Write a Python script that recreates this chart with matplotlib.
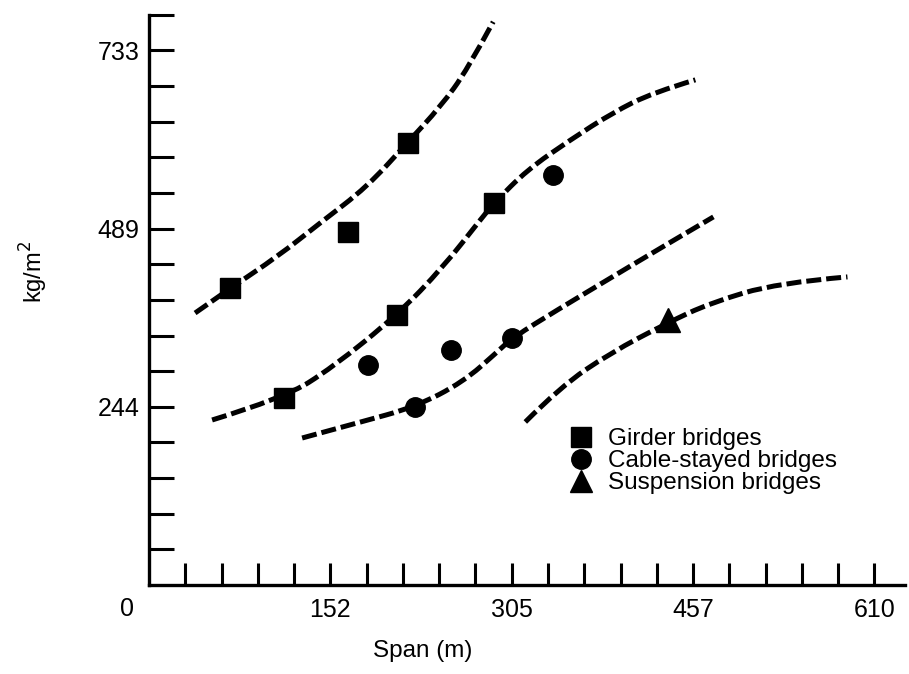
import matplotlib
matplotlib.use("Agg")
import matplotlib.pyplot as plt
from matplotlib.lines import Line2D
from matplotlib.path import Path
from matplotlib.patches import PathPatch

plt.rcParams['font.family'] = ['Liberation Sans', 'DejaVu Sans']

# measured points (span in m, weight in kg/m2)
girder_x = [68.2, 167.4, 217.9, 290.3, 208.7, 113.6]
girder_y = [407.4, 484.2, 606.3, 524.0, 370.4, 256.5]

cable_x = [339.9, 184.3, 254.1, 223.8, 305.4]
cable_y = [562.4, 301.8, 322.4, 244.2, 338.8]

susp_x = [436.7]
susp_y = [363.5]

# hand-drawn trend curves
curve1_x = [38.7, 68.2, 107.7, 143.9, 183.4, 217.9, 244.9, 267.6, 289.4]
curve1_y = [373.0, 407.0, 450.0, 496.6, 546.0, 607.7, 655.7, 706.4, 772.3]

curve2_x = [53.0, 113.6, 154.8, 208.7, 247.4, 278.5, 290.3, 318.0, 354.3, 389.7, 423.3, 459.4]
curve2_y = [226.3, 256.5, 299.0, 370.4, 436.2, 500.7, 524.0, 569.3, 610.4, 647.5, 675.0, 692.7]

curve3_x = [128.7, 175.0, 223.8, 264.2, 292.8, 305.4, 343.3, 385.4, 427.4, 474.6]
curve3_y = [201.6, 222.2, 244.2, 278.5, 319.6, 338.8, 377.2, 418.4, 459.5, 504.8]

curve4_x = [316.4, 345.8, 387.9, 435.8, 472.0, 528.4, 587.3]
curve4_y = [223.6, 271.6, 318.2, 359.4, 386.8, 414.3, 422.5]

xtick_labels = ["152", "305", "457", "610"]
ytick_labels = ["244", "489", "733"]

x_step = 30.5    # 100 ft
y_step = 733 / 15  # 10 psf


def smoothPath(xs, ys):
    # quadratic bezier through the midpoints, read points act as controls
    verts = [(xs[0], ys[0])]
    codes = [Path.MOVETO]
    for i in range(1, len(xs) - 1):
        mx = (xs[i] + xs[i + 1]) / 2
        my = (ys[i] + ys[i + 1]) / 2
        if i == len(xs) - 2:
            mx, my = xs[i + 1], ys[i + 1]
        verts += [(xs[i], ys[i]), (mx, my)]
        codes += [Path.CURVE3, Path.CURVE3]
    return Path(verts, codes)


def main():
    fig = plt.figure(figsize=(9.09, 6.74), dpi=100)
    ax = fig.add_axes([0.164, 0.132, 0.832, 0.846])

    for cx, cy in [(curve1_x, curve1_y), (curve2_x, curve2_y),
                   (curve3_x, curve3_y), (curve4_x, curve4_y)]:
        patch = PathPatch(smoothPath(cx, cy), facecolor="none", edgecolor="black",
                          lw=3.6, linestyle=(0, (3.0, 1.0)), capstyle="butt", zorder=2)
        ax.add_patch(patch)

    ax.plot(girder_x, girder_y, "s", color="black", ms=15, ls="none", zorder=3)
    ax.plot(cable_x, cable_y, "o", color="black", ms=14, ls="none", zorder=3)
    ax.plot(susp_x, susp_y, "^", color="black", ms=17, ls="none", zorder=3)

    ax.set_xlim(0, 636)
    ax.set_ylim(0, 16 * y_step)

    xt = [x_step * i for i in range(1, 21)]
    yt = [y_step * i for i in range(1, 17)]
    ax.set_xticks(xt)
    ax.set_xticklabels(["" if i % 5 else xtick_labels[i // 5 - 1] for i in range(1, 21)])
    ax.set_yticks(yt)
    ax.set_yticklabels(["" if (i % 5 or i > 15) else ytick_labels[i // 5 - 1] for i in range(1, 17)])

    ax.tick_params(axis="x", direction="in", length=16, width=2.2, labelsize=18, pad=9)
    ax.tick_params(axis="y", direction="in", length=18, width=2.2, labelsize=18, pad=7)
    ax.annotate("0", xy=(0, 0), xycoords="data", xytext=(-22, -24),
                textcoords="offset pixels", ha="center", va="center", fontsize=18)

    for s in ["top", "right"]:
        ax.spines[s].set_visible(False)
    for s in ["left", "bottom"]:
        ax.spines[s].set_linewidth(2.4)

    ax.set_xlabel("Span (m)", fontsize=17.5)
    ax.xaxis.set_label_coords(0.362, -0.096)
    ax.set_ylabel("kg/m$^2$", fontsize=17)
    ax.yaxis.set_label_coords(-0.131, 0.55)

    handles = [
        Line2D([], [], marker="s", color="black", ls="none", ms=14),
        Line2D([], [], marker="o", color="black", ls="none", ms=14),
        Line2D([], [], marker="^", color="black", ls="none", ms=16),
    ]
    ax.legend(handles, ["Girder bridges", "Cable-stayed bridges", "Suspension bridges"],
              loc="upper left", bbox_to_anchor=(0.555, 0.275), frameon=False,
              fontsize=17.5, handlelength=1.0, handletextpad=0.6,
              labelspacing=0.0, borderpad=0, borderaxespad=0)

    fig.savefig("out.png", dpi=100)
    plt.close(fig)


if __name__ == "__main__":
    main()
